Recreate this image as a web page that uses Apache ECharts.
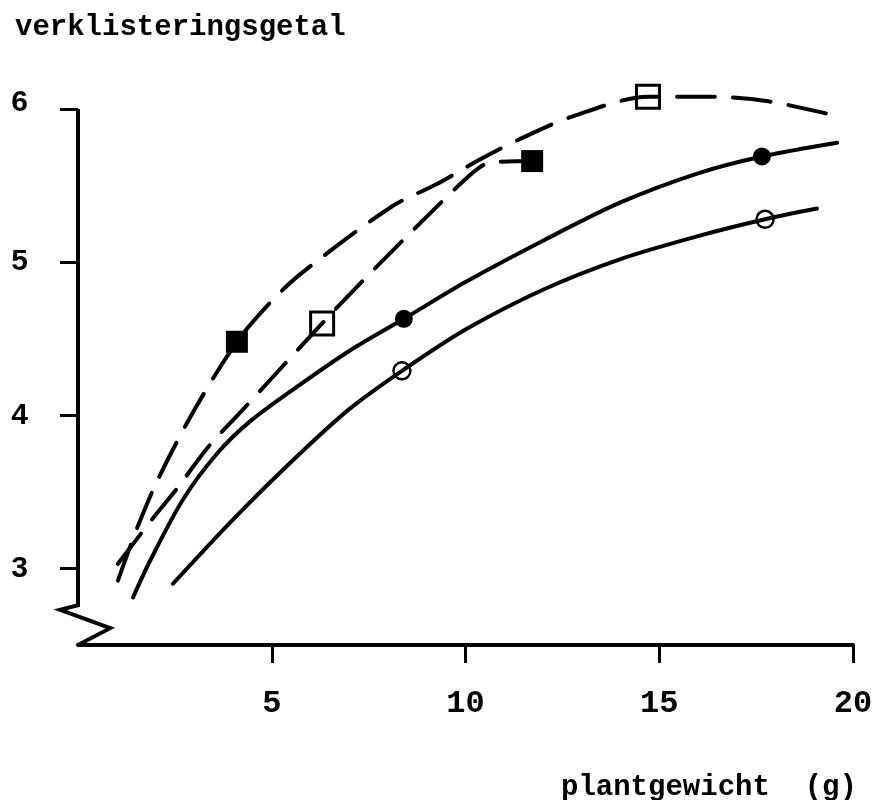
<!DOCTYPE html>
<html>
<head>
<meta charset="utf-8">
<script src="https://cdn.jsdelivr.net/npm/echarts@6/dist/echarts.min.js"></script>
<style>
  html, body { margin: 0; padding: 0; background: #ffffff; }
  #chart { width: 876px; height: 800px; }
</style>
</head>
<body>
<div id="chart"></div>
<script>
// Axis ticks and labels
const xTicks = [5, 10, 15, 20];
const yTicks = [3, 4, 5, 6];
const yTitle = 'verklisteringsgetal';
const xTitle = 'plantgewicht  (g)';

// Measured points (plantgewicht, verklisteringsgetal)
const filledCircles = [[8.41, 4.63], [17.65, 5.69]];
const openCircles = [[8.36, 4.29], [17.73, 5.28]];
const filledSquares = [[4.10, 4.48], [11.72, 5.66]];
const openSquares = [[6.30, 4.60], [14.71, 6.08]];

// Hand-fitted curves through the measured points
const curveFilledCircles = [
  [1.42, 2.81], [1.86, 3.05], [2.71, 3.45], [3.59, 3.75], [4.44, 3.96],
  [5.73, 4.20], [7.00, 4.42], [8.41, 4.63], [10, 4.87], [12, 5.14],
  [14, 5.39], [16, 5.58], [17.65, 5.69], [19.59, 5.78]
];
const curveOpenCircles = [
  [2.45, 2.90], [4.08, 3.34], [5.73, 3.75], [7.00, 4.04], [8.36, 4.29],
  [10, 4.56], [12, 4.82], [14, 5.02], [16, 5.17], [17.73, 5.28],
  [19.07, 5.35]
];
const curveUpperDashed = [
  [1.03, 2.92], [1.52, 3.26], [2.06, 3.58], [2.99, 4.03], [4.10, 4.48],
  [4.90, 4.72], [5.73, 4.92], [8.08, 5.36], [9.26, 5.51], [10.37, 5.67],
  [11.54, 5.82], [12.75, 5.95], [14.71, 6.08], [16.31, 6.08], [17.81, 6.05],
  [19.66, 5.95]
];
const curveLowerDashed = [
  [1.03, 3.03], [1.91, 3.32], [2.55, 3.52], [3.35, 3.79], [4.23, 4.03],
  [6.30, 4.60], [7.28, 4.86], [8.85, 5.26], [10.17, 5.58], [10.63, 5.65],
  [11.72, 5.66]
];

const INK = '#000000';
const MONO = '"Liberation Mono", "DejaVu Sans Mono", monospace';
const HAND = '"Liberation Sans", "DejaVu Sans", sans-serif';

const chart = echarts.init(document.getElementById('chart'), null, { renderer: 'canvas' });

function lineSeries(data, dashed) {
  return {
    type: 'line',
    data: data,
    smooth: 0.3,
    showSymbol: false,
    symbol: 'none',
    silent: true,
    clip: false,
    z: 2,
    lineStyle: {
      color: INK,
      width: 4,
      type: dashed ? [38, 18] : 'solid',
      cap: 'round'
    }
  };
}

function markerSeries(data, symbol, size, filled, border) {
  return {
    type: 'scatter',
    data: data,
    symbol: symbol,
    symbolSize: size,
    clip: false,
    z: 5,
    itemStyle: filled
      ? { color: INK, opacity: 1 }
      : { color: 'rgba(0,0,0,0)', borderColor: INK, borderWidth: border, opacity: 1 }
  };
}

const option = {
  backgroundColor: '#ffffff',
  animation: false,
  title: [
    {
      text: yTitle,
      left: 10,
      top: 8,
      textStyle: { fontFamily: MONO, fontWeight: 'bold', fontSize: 29, color: INK }
    },
    {
      text: xTitle,
      left: 556,
      top: 768,
      textStyle: { fontFamily: MONO, fontWeight: 'bold', fontSize: 29, color: INK }
    }
  ],
  grid: {
    left: 78,
    right: 23,
    top: 109,
    bottom: 155,
    outerBoundsMode: 'none'
  },
  xAxis: {
    type: 'value',
    min: 0,
    max: 20,
    interval: 5,
    splitLine: { show: false },
    axisLine: { show: true, lineStyle: { color: INK, width: 4 } },
    axisTick: {
      show: true,
      length: 18,
      customValues: xTicks,
      lineStyle: { color: INK, width: 3 }
    },
    axisLabel: {
      customValues: xTicks,
      margin: 43,
      fontFamily: MONO,
      fontWeight: 'bold',
      fontSize: 32,
      color: INK
    }
  },
  yAxis: {
    type: 'value',
    min: 2.5,
    max: 6,
    splitLine: { show: false },
    axisLine: { show: false },
    axisTick: {
      show: true,
      length: 18,
      customValues: yTicks,
      lineStyle: { color: INK, width: 3 }
    },
    axisLabel: {
      customValues: yTicks,
      margin: 50,
      fontFamily: HAND,
      fontWeight: 'bold',
      fontSize: 30,
      color: INK,
      formatter: v => (v === 6 ? '{top|6}' : String(v)),
      rich: {
        top: {
          fontFamily: HAND,
          fontWeight: 'bold',
          fontSize: 30,
          color: INK,
          padding: [0, 0, 12, 0]
        }
      }
    }
  },
  series: [
    lineSeries(curveFilledCircles, false),
    lineSeries(curveOpenCircles, false),
    lineSeries(curveUpperDashed, true),
    lineSeries(curveLowerDashed, true),
    markerSeries(filledCircles, 'circle', 18, true, 0),
    markerSeries(openCircles, 'circle', 17, false, 2.5),
    markerSeries(filledSquares, 'rect', 22, true, 0),
    markerSeries(openSquares, 'rect', 23, false, 3)
  ]
};

chart.setOption(option);

// Vertical axis with a broken-scale zigzag above the horizontal axis
const breakPath = [[0, 6], [0, 2.76], [-0.46, 2.73], [0.83, 2.61], [0, 2.5]];
const breakPts = breakPath.map(p => chart.convertToPixel({ gridIndex: 0 }, p));
chart.setOption({
  graphic: [{
    type: 'polyline',
    shape: { points: breakPts },
    style: { stroke: INK, lineWidth: 4, fill: null, lineJoin: 'miter' },
    z: 10
  }]
});
</script>
</body>
</html>
